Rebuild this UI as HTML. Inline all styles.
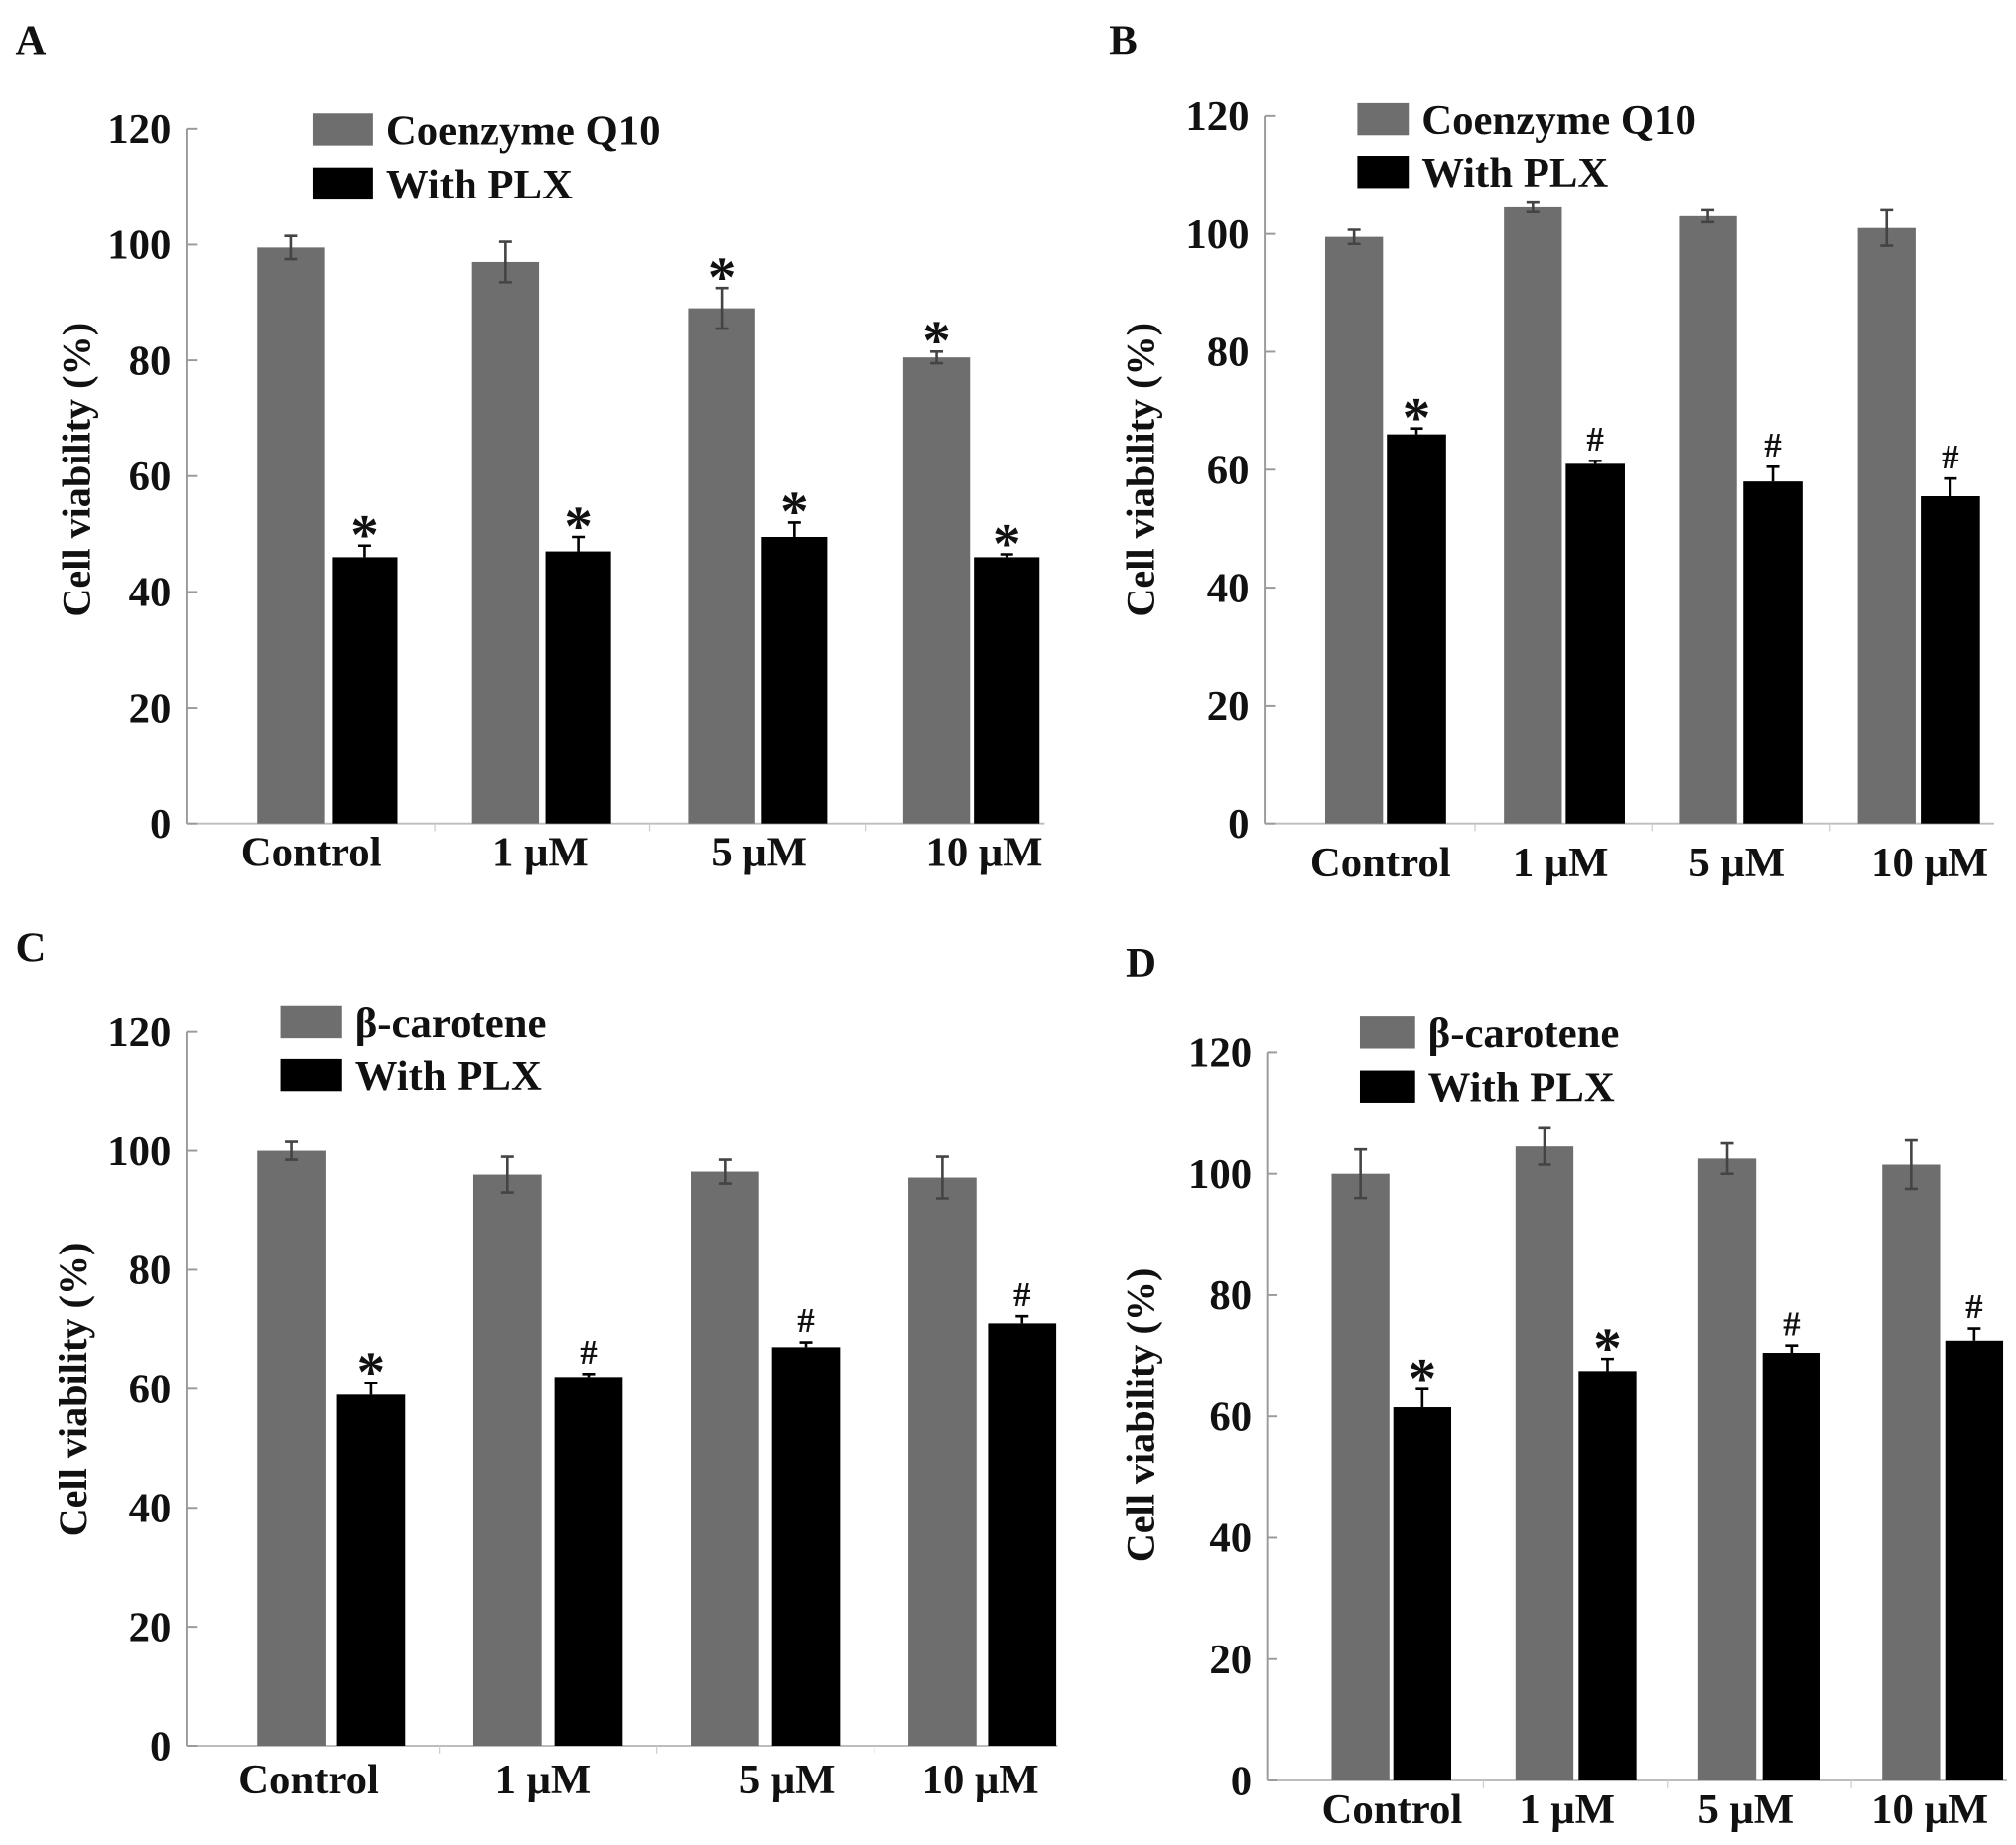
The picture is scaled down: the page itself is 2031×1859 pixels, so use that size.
<!DOCTYPE html>
<html><head><meta charset="utf-8"><style>
html,body{margin:0;padding:0;background:#fff;}
svg{display:block;}
text{font-family:"Liberation Serif",serif;font-weight:bold;fill:#111;}
</style></head><body>
<svg id="fig" xmlns="http://www.w3.org/2000/svg" width="2031" height="1859" viewBox="0 0 1567 1434"></svg>
<script>
const categories = ["Control", "1 μM", "5 μM", "10 μM"];
const yTicks = [0, 20, 40, 60, 80, 100, 120];

const aGray = [99.5, 97, 89, 80.5];
const aGrayErr = [2, 3.5, 3.5, 1];
const aBlack = [46, 47, 49.5, 46];
const aBlackErr = [2, 2.5, 2.5, 0.5];
const aGrayMark = ["", "", "*", "*"];
const aBlackMark = ["*", "*", "*", "*"];

const bGray = [99.5, 104.5, 103, 101];
const bGrayErr = [1.2, 0.8, 1, 3];
const bBlack = [66, 61, 58, 55.5];
const bBlackErr = [1, 0.5, 2.5, 3];
const bGrayMark = ["", "", "", ""];
const bBlackMark = ["*", "#", "#", "#"];

const cGray = [100, 96, 96.5, 95.5];
const cGrayErr = [1.5, 3, 2, 3.5];
const cBlack = [59, 62, 67, 71];
const cBlackErr = [2, 0.5, 0.8, 1.2];
const cGrayMark = ["", "", "", ""];
const cBlackMark = ["*", "#", "#", "#"];

const dGray = [100, 104.5, 102.5, 101.5];
const dGrayErr = [4, 3, 2.5, 4];
const dBlack = [61.5, 67.5, 70.5, 72.5];
const dBlackErr = [3, 2, 1.2, 2];
const dGrayMark = ["", "", "", ""];
const dBlackMark = ["*", "*", "#", "#"];

const NS = "http://www.w3.org/2000/svg";
const svg = document.getElementById("fig");
function mk(tag, attrs, parent, txt) {
  const e = document.createElementNS(NS, tag);
  for (const k in attrs) e.setAttribute(k, attrs[k]);
  if (txt !== undefined) e.textContent = txt;
  (parent || svg).appendChild(e);
  return e;
}

const panels = [
  {id:"a", letter:"A", lx:12, ly:42, ax:145, y0:640, y120:100, xEnd:812,
   gx:[200,367,535,702], bx:[258,424,592,757], gw:52, bw:51,
   catX:[242,420,590,765], catY:673, ylabX:70, ylabY:365,
   legX:243, legY1:88, legY2:130, legTxt:"Coenzyme Q10", legSw:47,
   gray:aGray, grayErr:aGrayErr, black:aBlack, blackErr:aBlackErr, gm:aGrayMark, bm:aBlackMark},
  {id:"b", letter:"B", lx:862, ly:42, ax:983, y0:640, y120:90, xEnd:1550,
   gx:[1030,1169,1305,1444], bx:[1078,1217,1355,1493], gw:45, bw:46,
   catX:[1073,1213,1350,1500], catY:681, ylabX:897, ylabY:365,
   legX:1055, legY1:80, legY2:121, legTxt:"Coenzyme Q10", legSw:40,
   gray:bGray, grayErr:bGrayErr, black:bBlack, blackErr:bBlackErr, gm:bGrayMark, bm:bBlackMark},
  {id:"c", letter:"C", lx:12, ly:747, ax:145, y0:1357, y120:802, xEnd:822,
   gx:[200,368,537,706], bx:[262,431,600,768], gw:53, bw:53,
   catX:[240,422,612,762], catY:1394, ylabX:67, ylabY:1080,
   legX:218, legY1:782, legY2:823, legTxt:"β-carotene", legSw:48,
   gray:cGray, grayErr:cGrayErr, black:cBlack, blackErr:cBlackErr, gm:cGrayMark, bm:cBlackMark},
  {id:"d", letter:"D", lx:875, ly:759, ax:985, y0:1384, y120:818, xEnd:1560,
   gx:[1035,1178,1320,1463], bx:[1083,1227,1370,1512], gw:45, bw:45,
   catX:[1082,1218,1357,1500], catY:1417, ylabX:897, ylabY:1100,
   legX:1057, legY1:790, legY2:832, legTxt:"β-carotene", legSw:43,
   gray:dGray, grayErr:dGrayErr, black:dBlack, blackErr:dBlackErr, gm:dGrayMark, bm:dBlackMark}
];

panels.forEach(p => {
  const g = mk("g", {});
  
  
  const yScale = v => p.y0 - (v / 120) * (p.y0 - p.y120);

  const L = mk("text", {x:p.lx, y:p.ly, "font-size":33}, g, p.letter);
  
  

  const ya = mk("line", {x1:p.ax, y1:p.y120, x2:p.ax, y2:p.y0, stroke:"#9a9a9a", "stroke-width":1.5}, g);
  
  
  const xa = mk("line", {x1:p.ax, y1:p.y0, x2:p.xEnd, y2:p.y0, stroke:"#bdbdbd", "stroke-width":1.5}, g);
  
  

  yTicks.forEach(t => {
    const y = yScale(t);
    mk("line", {x1:p.ax, y1:y, x2:p.ax + 8, y2:y, stroke:"#9a9a9a", "stroke-width":1.5}, g);
    const tl = mk("text", {x:p.ax - 12, y:y + 11, "font-size":33, "text-anchor":"end"}, g, String(t));
    
    
  });

  const yl = mk("text", {x:p.ylabX, y:p.ylabY, "font-size":31, "text-anchor":"middle",
    transform:"rotate(-90 " + p.ylabX + " " + p.ylabY + ")"}, g, "Cell viability (%)");
  
  

  categories.forEach((c, i) => {
    const cl = mk("text", {x:p.catX[i], y:p.catY, "font-size":33, "text-anchor":"middle"}, g, c);
    
    
    if (i > 0) {
      const tx = (p.bx[i-1] + p.bw + p.gx[i]) / 2;
      mk("line", {x1:tx, y1:p.y0, x2:tx, y2:p.y0 + 6, stroke:"#cfcfcf", "stroke-width":1}, g);
    }

    [["gray", p.gx[i], p.gw, p.gray[i], p.grayErr[i], p.gm[i], "#6e6e6e"],
     ["black", p.bx[i], p.bw, p.black[i], p.blackErr[i], p.bm[i], "#000"]].forEach(s => {
      const [name, x, w, v, e, mark, col] = s;
      const top = yScale(v);
      const r = mk("rect", {x:x, y:top, width:w, height:p.y0 - top, fill:col}, g);
      
      
      const cx = x + w / 2;
      const eTop = yScale(v + e), eBot = yScale(v - e);
      const ec = name === "gray" ? "#444" : "#000";
      const eb = mk("path", {d:"M" + cx + " " + eTop + "V" + (name === "gray" ? eBot : top) +
        "M" + (cx - 5) + " " + eTop + "H" + (cx + 5) +
        (name === "gray" ? "M" + (cx - 5) + " " + eBot + "H" + (cx + 5) : ""),
        stroke:ec, "stroke-width":2, fill:"none"}, g);
      
      
      if (mark) {
        const big = mark === "*";
        const m = mk("text", {x:cx, y:eTop - (big ? -6 : 8), "font-size":big ? 44 : 27,
          "text-anchor":"middle", "font-weight":big ? "bold" : "normal"}, g, mark);
        
        
      }
    });
  });

  const s1 = mk("rect", {x:p.legX, y:p.legY1, width:p.legSw, height:25, fill:"#6e6e6e"}, g);
  
  
  const t1 = mk("text", {x:p.legX + p.legSw + 10, y:p.legY1 + 24, "font-size":33}, g, p.legTxt);
  
  
  const s2 = mk("rect", {x:p.legX, y:p.legY2, width:p.legSw, height:25, fill:"#000"}, g);
  
  
  const t2 = mk("text", {x:p.legX + p.legSw + 10, y:p.legY2 + 24, "font-size":33}, g, "With PLX");
  
  
});
</script>
</body></html>
